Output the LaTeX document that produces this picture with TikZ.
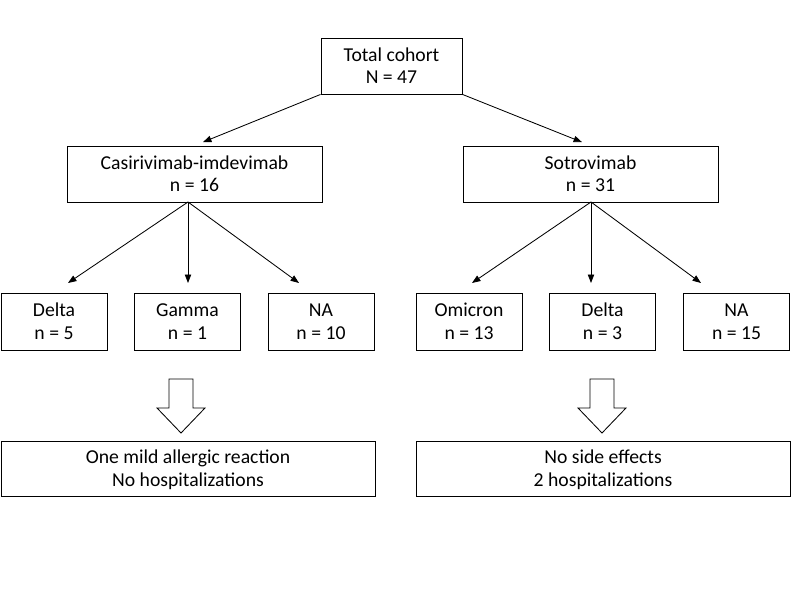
\documentclass[tikz,border=0pt]{standalone}
\usepackage{fontspec}
\setmainfont{Carlito}
\usetikzlibrary{arrows.meta}
\usetikzlibrary{positioning}
\tikzset{x=0.025cm, y=-0.025cm,
box/.style={ % plain boxes with two lines of text
draw,
line width=0.6pt,
align=flush center,
inner sep=0pt,
font=\fontsize{14}{16.3}\selectfont,
execute at begin node={\rule{0pt}{13.3pt}},
execute at end node={\rule[-4pt]{0pt}{4pt}}},
topbox/.style={box, text width=3.3cm, minimum width=3.525cm, minimum height=1.4cm},
armbox/.style={box, text width=6.1cm, minimum width=6.375cm, minimum height=1.4cm},
varbox/.style={box, text width=2.4cm, minimum width=2.65cm, minimum height=1.425cm},
outbox/.style={box, text width=9cm, minimum width=9.35cm, minimum height=1.375cm},
link/.style={ % thin connectors with small filled tips
draw,
line width=0.6pt,
-{Triangle[length=6pt,width=4.5pt]}},
pics/bigarrow/.style={code={ % hollow block arrow pointing down
\draw[line width=0.6pt, fill=white]
(-12,0) -- (12,0) -- (12,29) -- (24,29) -- (0,54) -- (-24,29) -- (-12,29) -- cycle;}}}

\begin{document}
\begin{tikzpicture}
\useasboundingbox (0,0) rectangle (791,596);

\node[topbox] (total) at (391.5,66) {Total cohort\\N = 47};
\node[armbox] (casi) at (194.5,174) {Casirivimab-imdevimab\\n = 16};
\node[armbox] (sotro) at (590.5,174) {Sotrovimab\\n = 31};

\node[varbox] (cdelta) at (54,321.5) {Delta\\n = 5};
\node[varbox] (cgamma) at (187.5,321.5) {Gamma\\n = 1};
\node[varbox] (cna) at (321,321.5) {NA\\n = 10};
\node[varbox] (somi) at (469,321.5) {Omicron\\n = 13};
\node[varbox] (sdelta) at (602.5,321.5) {Delta\\n = 3};
\node[varbox] (sna) at (736.5,321.5) {NA\\n = 15};

\node[outbox] (cout) at (188,468.5) {One mild allergic reaction\\No hospitalizations};
\node[outbox] (sout) at (603,468.5) {No side effects\\2 hospitalizations};

% feet and arrow ends
\coordinate (cfoot) at (188,202);
\coordinate (sfoot) at (591,202);
\coordinate (cdelta-in) at (68,283);
\coordinate (cgamma-in) at (188,283);
\coordinate (cna-in) at (299,283);
\coordinate (somi-in) at (472,283);
\coordinate (sdelta-in) at (591,283);
\coordinate (sna-in) at (701,283);

\draw[link, shorten >=6.5pt] (total.south west) -- (casi.north);
\draw[link, shorten >=6.5pt] (total.south east) -- (sotro.north);

\draw[link] (cfoot) -- (cdelta-in);
\draw[link] (cfoot) -- (cgamma-in);
\draw[link] (cfoot) -- (cna-in);
\draw[link] (sfoot) -- (somi-in);
\draw[link] (sfoot) -- (sdelta-in);
\draw[link] (sfoot) -- (sna-in);

\pic at (181,379) {bigarrow};
\pic at (602,379) {bigarrow};
\end{tikzpicture}
\end{document}
